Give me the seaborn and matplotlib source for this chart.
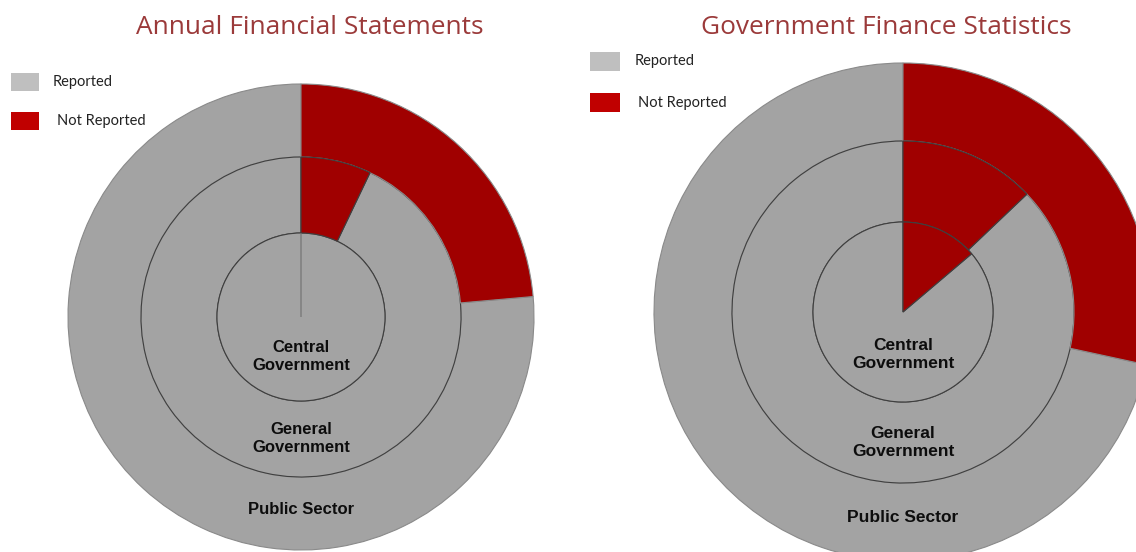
import matplotlib
matplotlib.use("Agg")
import matplotlib.pyplot as plt
from matplotlib.patches import Rectangle
import seaborn as sns

# Share of entities that did not report, per level of government (%)
levels = ["Central\nGovernment", "General\nGovernment", "Public Sector"]
afs_not_reported = [0.0, 7.1, 23.6]
gfs_not_reported = [13.8, 12.9, 28.4]
titles = ["Annual Financial Statements", "Government Finance Statistics"]
legend_labels = ["Reported", "Not Reported"]

sns.set_theme(style="white")
plt.rcParams["font.family"] = ["Liberation Sans", "DejaVu Sans"]

GREY = "#a3a3a3"
RED = "#a00000"
EDGE = "#3f3f3f"
OUTER_EDGE = "#8a8a8a"
TITLE_C = "#9b3a3a"

W, H = 1136, 552
fig = plt.figure(figsize=(W / 100, H / 100), dpi=100)
ax = fig.add_axes([0, 0, 1, 1])

# geometry of each nested pie: centre, ring radii (outer -> inner), label rows
panels = [
    dict(vals=afs_not_reported, cx=301, cy=317, radii=[233, 160, 84],
         lab_y=[357, 439, 510], fs=12, title_x=310),
    dict(vals=gfs_not_reported, cx=903, cy=312, radii=[249, 171, 90],
         lab_y=[354, 442, 518], fs=12.5, title_x=886),
]

for p, title in zip(panels, titles):
    vals = p["vals"]
    r_out, r_mid, r_in = p["radii"]
    # rings drawn outer first: public sector, general government, central government
    ring_specs = [(vals[2], r_out, r_out - r_mid, OUTER_EDGE),
                  (vals[1], r_mid, r_mid - r_in, EDGE),
                  (vals[0], r_in, None, EDGE)]
    for nr, radius, width, ec in ring_specs:
        wp = dict(edgecolor=ec, linewidth=0.8)
        if width is not None:
            wp["width"] = width
        # y axis runs downward, so start at -90 and sweep counter-clockwise in data
        # space: on screen the red slice starts at 12 o'clock and runs clockwise
        wedges, _ = ax.pie([nr, 100 - nr], colors=[RED, GREY], radius=radius,
                           center=(p["cx"], p["cy"]), startangle=-90,
                           counterclock=True, wedgeprops=wp, frame=True)
        # keep the "not reported" slice (even an empty one) above the grey slice
        wedges[0].set_zorder(wedges[1].get_zorder() + 0.1)
        if nr == 0:
            wedges[0].set_edgecolor("#707070")
    for lab, y in zip(levels, p["lab_y"]):
        ax.text(p["cx"], y, lab, ha="center", va="center", fontsize=p["fs"],
                fontweight="bold", color="#0d0d0d", linespacing=1.25, zorder=5)
    ax.text(p["title_x"], 27, title, ha="center", va="center", fontsize=18.9,
            color=TITLE_C, family=["Open Sans", "DejaVu Sans"])

ax.set_xlim(0, W)
ax.set_ylim(H, 0)
ax.set_aspect("auto")
ax.axis("off")

# legend swatches and labels
legends = [
    dict(x=11, w=28, ys=[73, 112], h=18, tx=[53, 57]),
    dict(x=590, w=30, ys=[52, 93], h=19, tx=[635, 638]),
]
for lg in legends:
    for col, y, tx, lab in zip(["#bfbfbf", "#c00000"], lg["ys"], lg["tx"], legend_labels):
        ax.add_patch(Rectangle((lg["x"], y), lg["w"], lg["h"], facecolor=col,
                               edgecolor="none"))
        ax.text(tx, y + lg["h"] / 2, lab, ha="left", va="center", fontsize=10.5,
                color="#222222", family=["Lato", "DejaVu Sans"])

fig.savefig("out.png", dpi=100)
